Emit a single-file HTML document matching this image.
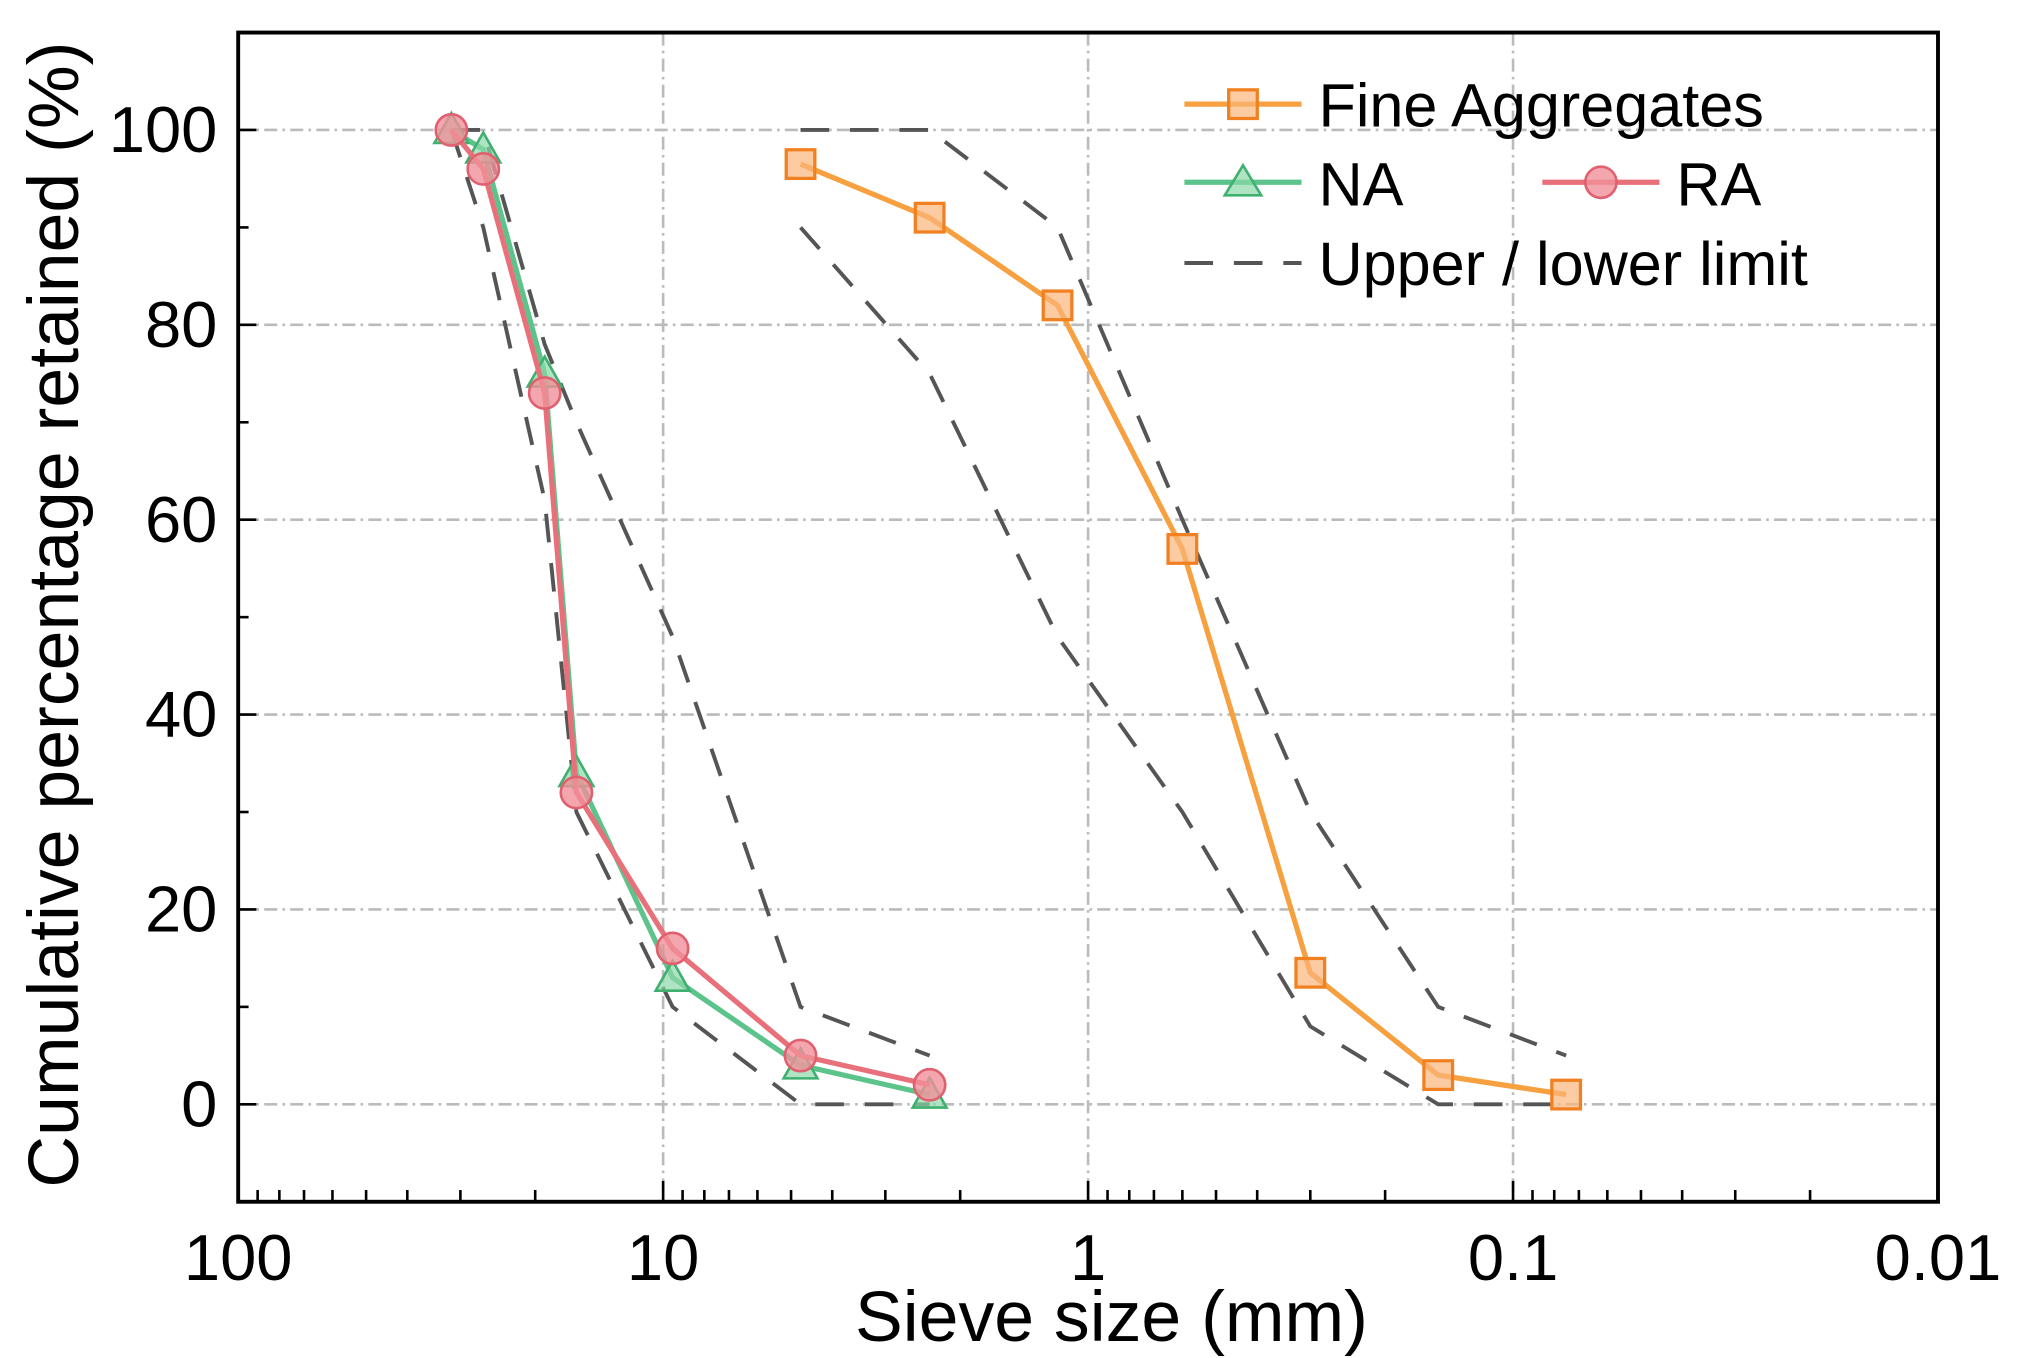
<!DOCTYPE html>
<html><head><meta charset="utf-8"><style>html,body{margin:0;padding:0;background:#fff}svg{display:block}</style></head>
<body>
<svg id="chart" width="2020" height="1358" viewBox="0 0 1552 1043" preserveAspectRatio="none" xmlns="http://www.w3.org/2000/svg" font-family="Liberation Sans, sans-serif">
<g id="grid"></g>
<g id="limits"></g>
<g id="series"></g>
<rect x="183" y="25" width="1306" height="898" fill="none" stroke="#000" stroke-width="3"/>
<g id="axes"></g>
<text x="854" y="1030" font-size="55" text-anchor="middle">Sieve size (mm)</text>
<text transform="translate(60,472) rotate(-90)" font-size="55" text-anchor="middle">Cumulative percentage retained (%)</text>
<g font-size="47">
  <g>
    <line x1="910" y1="80" x2="1000" y2="80" stroke="#f7a040" stroke-width="4"/>
    <rect x="944" y="69" width="22" height="22" fill="#fbb57a" fill-opacity="0.7" stroke="#f08020" stroke-width="2.5"/>
    <text x="1013" y="97">Fine Aggregates</text>
  </g>
  <g>
    <line x1="910" y1="140" x2="1000" y2="140" stroke="#5cc48a" stroke-width="4"/>
    <polygon points="955,127 969,150 941,150" fill="#8cd8a8" fill-opacity="0.7" stroke="#40b070" stroke-width="2"/>
    <text x="1013" y="158">NA</text>
  </g>
  <g>
    <line x1="1185" y1="140" x2="1275" y2="140" stroke="#e8707a" stroke-width="4"/>
    <circle cx="1230" cy="140" r="12" fill="#f09098" fill-opacity="0.8" stroke="#e06070" stroke-width="2"/>
    <text x="1288" y="158">RA</text>
  </g>
  <g>
    <line x1="910" y1="202" x2="1000" y2="202" stroke="#555" stroke-width="3" stroke-dasharray="22,16"/>
    <text x="1013" y="219">Upper / lower limit</text>
  </g>
</g>
<script>
const xTicks = [100, 10, 1, 0.1, 0.01];
const xTickLabels = ["100", "10", "1", "0.1", "0.01"];
const yTicks = [0, 20, 40, 60, 80, 100];
const coarseSizes = [31.5, 26.5, 19, 16, 9.5, 4.75, 2.36];
const naValues = [100, 98, 75, 34, 13, 4, 1];
const raValues = [100, 96, 73, 32, 16, 5, 2];
const coarseUpper = [100, 100, 78, 70, 48, 10, 5];
const coarseLower = [100, 90, 62, 30, 10, 0, 0];
const fineSizes = [4.75, 2.36, 1.18, 0.6, 0.3, 0.15, 0.075];
const fineValues = [96.5, 91, 82, 57, 13.5, 3, 1];
const fineUpper = [100, 100, 90, 60, 30, 10, 5];
const fineLower = [90, 75, 48, 30, 8, 0, 0];

const NS = "http://www.w3.org/2000/svg";
const L = 183, R = 1489, T = 25, B = 923;
function xs(v){ return L + (2 - Math.log10(v)) / 4 * (R - L); }
function ys(v){ return B - (v + 10) / 120 * (B - T); }
function mk(tag, attrs, parent){ const e = document.createElementNS(NS, tag); for (const k in attrs) e.setAttribute(k, attrs[k]); parent.appendChild(e); return e; }
const grid = document.getElementById('grid'), axes = document.getElementById('axes'), lim = document.getElementById('limits'), ser = document.getElementById('series');

xTicks.forEach((t, i) => {
  const x = xs(t);
  if (i > 0 && i < xTicks.length - 1) {
    const g = mk('line', {x1:x, y1:T, x2:x, y2:B, stroke:'#bbb', 'stroke-width':2, 'stroke-dasharray':'10,4,2,4'}, grid);
    
    
  }
  const tk = mk('line', {x1:x, y1:B, x2:x, y2:B-16, stroke:'#000', 'stroke-width':2}, axes);
  
  
  const lb = mk('text', {x:x, y:B+60, 'font-size':50, 'text-anchor':'middle'}, axes);
  lb.textContent = xTickLabels[i];
  
  
  if (i < xTicks.length - 1) {
    for (let m = 2; m <= 9; m++) {
      const xm = xs(t / 10 * m);
      const mt = mk('line', {x1:xm, y1:B, x2:xm, y2:B-9, stroke:'#000', 'stroke-width':2}, axes);
      
      
    }
  }
});
yTicks.forEach(t => {
  const y = ys(t);
  const g = mk('line', {x1:L, y1:y, x2:R, y2:y, stroke:'#bbb', 'stroke-width':2, 'stroke-dasharray':'10,4,2,4'}, grid);
  
  
  const tk = mk('line', {x1:L, y1:y, x2:L+14, y2:y, stroke:'#000', 'stroke-width':2}, axes);
  
  
  const mt = mk('line', {x1:L, y1:ys(t+10), x2:L+8, y2:ys(t+10), stroke:'#000', 'stroke-width':2}, axes);
  
  
  const lb = mk('text', {x:L-16, y:y+17, 'font-size':50, 'text-anchor':'end'}, axes);
  lb.textContent = String(t);
  
  
});
function pts(xsArr, vals){ return xsArr.map((s, i) => xs(s) + ',' + ys(vals[i])).join(' '); }
[[coarseSizes, coarseUpper, 'coarse-upper-limit'], [coarseSizes, coarseLower, 'coarse-lower-limit'], [fineSizes, fineUpper, 'fine-upper-limit'], [fineSizes, fineLower, 'fine-lower-limit']].forEach(d => {
  const p = mk('polyline', {points:pts(d[0], d[1]), fill:'none', stroke:'#555', 'stroke-width':3, 'stroke-dasharray':'22,16'}, lim);
  
  
});
const naLine = mk('polyline', {points:pts(coarseSizes, naValues), fill:'none', stroke:'#5cc48a', 'stroke-width':4}, ser);


coarseSizes.forEach((s, i) => {
  const x = xs(s), y = ys(naValues[i]);
  const m = mk('polygon', {points:`${x},${y-13} ${x+13},${y+10} ${x-13},${y+10}`, fill:'#8cd8a8', 'fill-opacity':0.7, stroke:'#40b070', 'stroke-width':2}, ser);
  
  
});
const raLine = mk('polyline', {points:pts(coarseSizes, raValues), fill:'none', stroke:'#e8707a', 'stroke-width':4}, ser);


coarseSizes.forEach((s, i) => {
  const m = mk('circle', {cx:xs(s), cy:ys(raValues[i]), r:12, fill:'#f09098', 'fill-opacity':0.8, stroke:'#e06070', 'stroke-width':2}, ser);
  
  
});
const fLine = mk('polyline', {points:pts(fineSizes, fineValues), fill:'none', stroke:'#f7a040', 'stroke-width':4}, ser);


fineSizes.forEach((s, i) => {
  const m = mk('rect', {x:xs(s)-11, y:ys(fineValues[i])-11, width:22, height:22, fill:'#fbb57a', 'fill-opacity':0.7, stroke:'#f08020', 'stroke-width':2.5}, ser);
  
  
});
</script>
</svg>
</body></html>
